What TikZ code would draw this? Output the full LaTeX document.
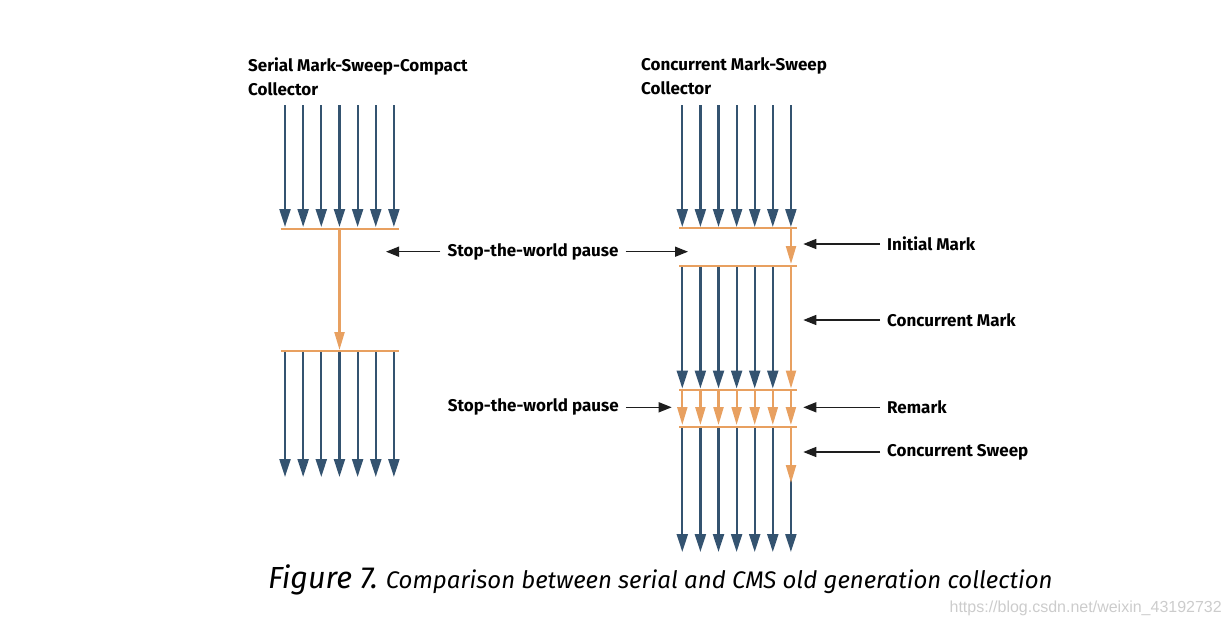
\documentclass[tikz,border=0pt]{standalone}
\usepackage{fontspec}
\setmainfont{Fira Sans}
\newfontfamily\markfont{Liberation Sans}
\usepackage{xcolor}
\usetikzlibrary{arrows.meta}

\definecolor{gcblue}{RGB}{52,83,112}
\definecolor{gcorange}{RGB}{232,160,96}
\definecolor{gcblack}{RGB}{30,30,30}

\tikzset{
  thread/.style={gcblue, line width=2.2pt, -{Triangle[width=11pt,length=18pt]}},
  gcthread/.style={gcorange, line width=2.2pt, -{Triangle[width=10pt,length=18pt]}},
  gcbar/.style={gcorange, line width=2pt},
  pointer/.style={gcblack, line width=1.5pt, -{Triangle[width=10pt,length=13pt]}},
  phase/.style={font=\bfseries\fontsize{17}{24}\selectfont, inner ysep=0pt, inner xsep=7pt},
  title/.style={font=\bfseries\fontsize{17}{24}\selectfont, inner sep=0pt, align=left, anchor=north west}
}

\begin{document}
\begin{tikzpicture}[x=1pt,y=-1pt]
\useasboundingbox (0,0) rectangle (1230,626);

% serial collector
\node[title] (serial) at (248,57.5) {Serial Mark-Sweep-Compact\\Collector};
\foreach \i in {0,...,6} {
  \draw[thread] (285+18.15*\i,105) -- (285+18.15*\i,227);
  \draw[thread] (285+18.15*\i,351) -- (285+18.15*\i,477);
}
\draw[gcbar] (280.5,228.5) -- (399,228.5);
\draw[gcthread] (339.5,228.5) -- (339.5,350);
\draw[gcbar] (280.5,351) -- (399,351);

% concurrent collector
\node[title] (cms) at (641,57.5) {Concurrent Mark-Sweep\\Collector};
\foreach \i in {0,...,6} {
  \draw[thread] (682.3+18.1*\i,105) -- (682.3+18.1*\i,227);
  \draw[gcthread] (682.3+18.1*\i,390) -- (682.3+18.1*\i,425);
  \draw[thread] (682.3+18.1*\i,427) -- (682.3+18.1*\i,552);
}
\foreach \i in {0,...,5}
  \draw[thread] (682.3+18.1*\i,266) -- (682.3+18.1*\i,388.5);
\draw[gcbar] (679,228) -- (797,228);
\draw[gcthread] (791,228) -- (791,264);
\draw[gcbar] (679,266) -- (797,266);
\draw[gcthread] (791,266) -- (791,388.5);
\draw[gcbar] (679,390) -- (797,390);
\draw[gcbar] (679,427) -- (797,427);
\draw[gcthread] (791,427) -- (791,483);

% labels
\node[phase] (stw1) at (533,251.7) {Stop-the-world pause};
\coordinate (serialpause) at (386,251.7);
\coordinate (cmspause) at (688,251.7);
\draw[pointer] (stw1) -- (serialpause);
\draw[pointer] (stw1) -- (cmspause);

\node[phase] (stw2) at (533.3,407.3) {Stop-the-world pause};
\coordinate (remarkpause) at (671.7,407.3);
\draw[pointer] (stw2) -- (remarkpause);

\node[phase, anchor=west] (initial) at (880,244) {Initial Mark};
\node[phase, anchor=west] (cmark) at (880,320) {Concurrent Mark};
\node[phase, anchor=west] (remark) at (880,407.3) {Remark};
\node[phase, anchor=west] (csweep) at (880,452) {Concurrent Sweep};
\coordinate (initialpt) at (803.3,244);
\coordinate (cmarkpt) at (803.3,320);
\coordinate (remarkpt) at (803.3,407.3);
\coordinate (csweeppt) at (803.3,452);
\draw[pointer] (initial) -- (initialpt);
\draw[pointer] (cmark) -- (cmarkpt);
\draw[pointer] (remark) -- (remarkpt);
\draw[pointer] (csweep) -- (csweeppt);

% caption
\node[anchor=base west, inner sep=0pt, font=\itshape] (caption) at (268,588)
  {{\fontsize{30.5}{32}\selectfont Figure 7.\ }{\fontsize{24}{26}\selectfont Comparison between serial and CMS old generation collection}};
\node[anchor=base east, inner sep=0pt, text=black!20, font=\markfont\fontsize{16}{18}\selectfont] (mark) at (1222,612)
  {https://blog.csdn.net/weixin\_43192732};
\end{tikzpicture}
\end{document}
